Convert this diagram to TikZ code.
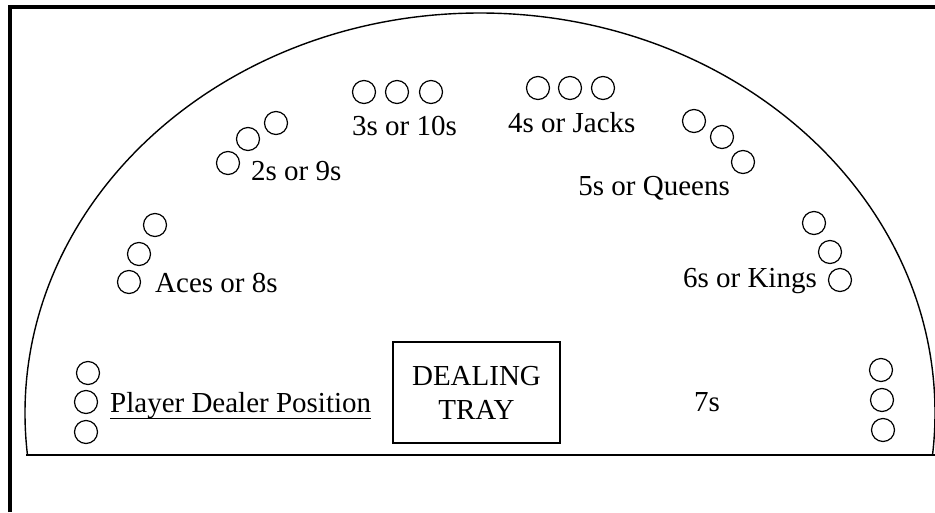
\documentclass[tikz,border=0pt]{standalone}
\usepackage{fontspec}
\setmainfont{Liberation Serif}
\begin{document}
\begin{tikzpicture}[x=1pt,y=-1pt,
  chip/.style={circle,draw,line width=1.2pt,minimum size=23pt,inner sep=0pt},
  lbl/.style={anchor=base west,inner sep=0pt,font=\fontsize{29}{34}\selectfont},
  lblr/.style={anchor=base east,inner sep=0pt,font=\fontsize{29}{34}\selectfont}]
\useasboundingbox (0,0) rectangle (935,512);
\fill[white] (0,0) rectangle (935,512);
% frame
\draw[line width=4pt] (10,512) -- (10,7) -- (935,7);
% table
\begin{scope}
\clip (0,0) rectangle (935,455);
\draw[line width=1.4pt] (480,413) ellipse [x radius=455, y radius=400];
\end{scope}
\draw[line width=1.4pt] (26,455) -- (935,455);
% Aces or 8s
\node[chip] (a1) at (129,282) {};
\node[chip] (a2) at (139,254) {};
\node[chip] (a3) at (155,225) {};
\node[lbl] (ta) at (155,292) {Aces or 8s};
% 2s or 9s
\node[chip] (b1) at (228,163) {};
\node[chip] (b2) at (248,139) {};
\node[chip] (b3) at (276,123) {};
\node[lbl] (tb) at (251,180) {2s or 9s};
% 3s or 10s
\node[chip] (c1) at (364,92) {};
\node[chip] (c2) at (397,92) {};
\node[chip] (c3) at (431,92) {};
\node[lbl] (tc) at (352,135) {3s or 10s};
% 4s or Jacks
\node[chip] (d1) at (538,88) {};
\node[chip] (d2) at (570,88) {};
\node[chip] (d3) at (603,88) {};
\node[lbl] (td) at (508,132) {4s or Jacks};
% 5s or Queens
\node[chip] (e1) at (694,121) {};
\node[chip] (e2) at (722,137) {};
\node[chip] (e3) at (743,162) {};
\node[lblr] (te) at (730,195) {5s or Queens};
% 6s or Kings
\node[chip] (f1) at (814,223) {};
\node[chip] (f2) at (830,252) {};
\node[chip] (f3) at (840,280) {};
\node[lblr] (tf) at (817,287) {6s or Kings};
% 7s
\node[chip] (g1) at (881,370) {};
\node[chip] (g2) at (882,400) {};
\node[chip] (g3) at (883,430) {};
\node[anchor=base,inner sep=0pt,font=\fontsize{29}{34}\selectfont] (tg) at (707,411) {7s};
% Player dealer
\node[chip] (p1) at (88,373) {};
\node[chip] (p2) at (86,402) {};
\node[chip] (p3) at (86,432) {};
\node[lbl] (tp) at (110,412) {Player Dealer Position};
\draw[line width=1.3pt] (tp.south west) -- (tp.south east);
% dealing tray
\node[draw,line width=1.3pt,minimum width=167pt,minimum height=101pt,inner sep=0pt,align=center,font=\fontsize{29}{34}\selectfont] (tray) at (476.5,392.5) {DEALING\\TRAY};
\end{tikzpicture}
\end{document}
